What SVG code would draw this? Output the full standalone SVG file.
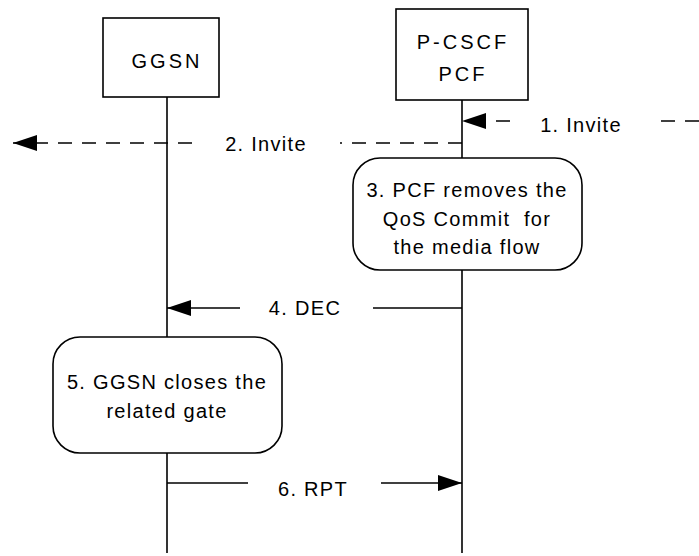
<svg xmlns="http://www.w3.org/2000/svg" width="699" height="556" viewBox="0 0 699 556">
<defs>
<style>
.t{font-family:"Liberation Sans",Arial,sans-serif;font-size:20px;fill:#000;text-anchor:middle;letter-spacing:1.3px}
.h{letter-spacing:3px}
.box{fill:#fff;stroke:#000;stroke-width:1.6}
.ln{fill:none;stroke:#000;stroke-width:1.6}
.dash{fill:none;stroke:#000;stroke-width:1.6;stroke-dasharray:14 10}
</style>
<marker id="ah" markerWidth="24" markerHeight="16" refX="24" refY="8" orient="auto" markerUnits="userSpaceOnUse">
<path d="M0,0 L24,8 L0,16 Z" fill="#000"/>
</marker>
</defs>
<rect width="699" height="556" fill="#fff"/>
<g id="lifelines">
<line class="ln" x1="167" y1="97" x2="167" y2="553"/>
<line class="ln" x1="462" y1="100" x2="462" y2="553"/>
</g>
<g id="ggsn">
<rect class="box" x="103" y="18" width="116" height="79"/>
<text class="t h" x="167" y="68">GGSN</text>
</g>
<g id="pcscf">
<rect class="box" x="396" y="9" width="132" height="91"/>
<text class="t h" x="463" y="49">P-CSCF</text>
<text class="t h" x="463" y="81">PCF</text>
</g>
<g id="connectors">
<line class="dash" x1="699" y1="121" x2="660" y2="121" stroke-dasharray="30 8 2 20"/>
<line class="dash" x1="510" y1="121" x2="462" y2="121" marker-end="url(#ah)"/>
<line class="dash" x1="462" y1="143" x2="340" y2="143"/>
<line class="dash" x1="192" y1="143" x2="13" y2="143" marker-end="url(#ah)"/>
<line class="ln" x1="462" y1="308" x2="373" y2="308"/>
<line class="ln" x1="240" y1="308" x2="167" y2="308" marker-end="url(#ah)"/>
<line class="ln" x1="167" y1="483" x2="248" y2="483"/>
<line class="ln" x1="381" y1="483" x2="462" y2="483" marker-end="url(#ah)"/>
<text class="t" x="581" y="132">1. Invite</text>
<text class="t" x="266" y="151">2. Invite</text>
<text class="t" x="305" y="315">4. DEC</text>
<text class="t" x="313" y="496">6. RPT</text>
</g>
<g id="step3">
<rect class="box" x="353" y="158" width="229" height="112" rx="27" ry="27"/>
<text class="t" x="467" y="197">3. PCF removes the</text>
<text class="t" x="467" y="226" xml:space="preserve">QoS Commit  for</text>
<text class="t" x="467" y="254">the media flow</text>
</g>
<g id="step5">
<rect class="box" x="53" y="337" width="229" height="116" rx="27" ry="27"/>
<text class="t" x="167" y="389">5. GGSN closes the</text>
<text class="t" x="167" y="418">related gate</text>
</g>
</svg>
